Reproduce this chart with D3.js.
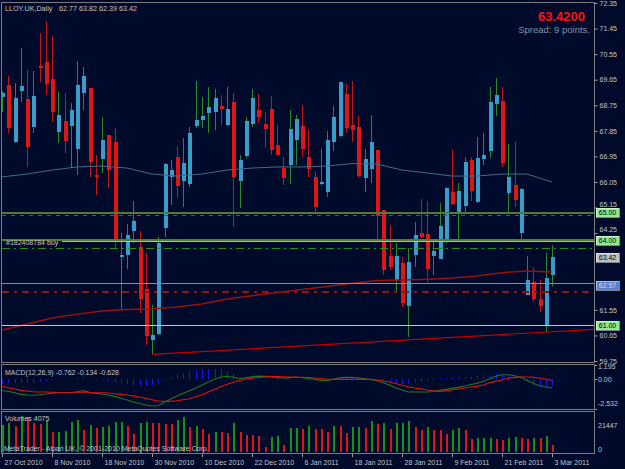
<!DOCTYPE html>
<html><head><meta charset="utf-8">
<script src="https://cdn.jsdelivr.net/npm/d3@7/dist/d3.min.js"></script>
<style>html,body{margin:0;padding:0;background:#000b2c;}svg{display:block}</style>
</head><body><svg id="c" width="625" height="469"></svg>
<script>
// ---------- DATA ----------
const symbolTitle = "LLOY.UK,Daily";
const lastOHLC = "62.77 63.82 62.39 63.42";
const bidText = "63.4200";
const spreadText = "Spread: 9 points.";
const opens  = [69.04,69.46,67.46,69.25,68.97,67.99,70.13,70.27,69.67,67.81,68.20,68.02,67.21,69.18,69.36,66.30,66.86,67.70,67.46,63.41,63.48,64.33,63.76,62.28,60.49,60.70,64.43,66.23,66.93,66.08,65.98,68.02,68.23,68.48,68.51,68.72,68.06,68.87,66.08,66.97,68.09,68.58,68.09,68.62,67.35,66.54,66.65,67.53,68.02,66.93,66.23,65.98,65.70,67.46,67.67,69.15,68.06,67.99,66.19,66.51,67.18,65.06,63.44,62.60,63.20,61.68,63.48,64.26,64.22,63.44,63.34,64.01,65.70,64.99,65.21,66.82,65.35,66.86,67.14,68.80,68.90,65.66,65.94,64.26,62.07,62.53,61.93,61.02,62.77];
const highs  = [69.25,69.78,69.53,70.77,69.99,69.96,71.29,71.72,71.19,69.22,69.18,68.83,70.31,70.10,69.36,67.00,68.34,67.70,67.95,64.26,64.57,65.38,64.33,63.55,61.72,64.11,66.72,66.82,67.32,67.60,67.99,69.60,69.04,69.39,69.32,69.11,69.39,69.18,67.00,68.34,69.32,69.15,68.51,69.08,68.06,66.93,68.58,68.41,68.76,67.88,66.40,67.21,67.84,68.72,69.57,69.50,69.60,68.37,67.21,68.41,67.18,65.06,64.54,63.90,63.41,63.73,64.64,65.45,65.38,63.94,65.31,65.87,67.21,66.01,66.93,66.93,67.63,67.77,69.39,69.71,69.39,67.39,67.49,65.84,63.44,63.06,62.60,63.55,63.82];
const lows   = [68.51,67.77,67.42,68.87,66.58,67.77,69.57,69.11,68.16,67.42,67.07,66.54,66.30,68.58,66.23,65.59,66.37,65.84,63.73,61.54,62.99,63.90,61.44,60.31,59.96,60.65,64.11,65.24,65.49,65.17,65.87,67.95,67.95,67.77,67.88,68.06,68.02,64.47,65.13,66.89,67.99,68.13,67.25,67.00,67.00,65.94,65.98,66.65,66.93,66.23,64.92,65.94,65.52,67.14,67.63,67.77,67.46,66.19,65.70,66.01,63.94,62.78,62.95,62.21,61.65,60.59,63.06,64.08,62.53,62.78,63.34,63.90,65.24,63.94,64.99,65.38,65.31,66.65,66.89,68.37,66.58,64.96,65.17,63.94,62.07,61.83,61.47,60.77,62.39];
const closes = [69.18,67.95,69.01,69.43,67.28,69.08,70.06,69.50,68.51,68.41,67.49,68.58,69.46,69.78,66.75,66.23,67.53,66.47,63.94,63.48,64.19,64.68,61.93,60.63,60.66,63.90,66.68,66.47,65.91,66.72,67.77,68.23,68.37,68.69,69.01,68.62,68.62,66.23,66.82,68.20,69.01,68.34,67.92,67.18,67.00,66.19,67.92,68.27,67.21,66.51,65.17,66.05,67.53,68.34,69.57,67.95,67.88,66.26,66.86,67.46,64.85,62.95,63.06,63.44,61.79,63.23,64.19,64.11,62.99,63.62,64.50,65.84,65.28,65.73,66.75,65.73,66.89,67.00,68.87,69.11,66.72,66.23,65.42,65.80,62.60,61.93,61.68,62.67,63.42];
const volumes = [16216,17088,15345,21447,20576,17088,16914,18483,11857,12206,12380,17611,18832,13252,15868,14473,14996,15345,17611,17960,15693,10462,17088,17960,17437,17088,16914,16740,19181,20576,14996,15345,13601,10462,12206,12032,11508,17088,12206,10113,9939,9765,3139,8893,9242,4011,14124,14473,13950,15345,13950,13775,12206,15693,15519,11334,14821,14996,14473,18483,16740,17088,13601,17088,17437,18483,14821,12903,14821,13252,12903,10462,12903,14298,13252,8021,8195,8370,8544,7498,7324,8370,8719,8544,7672,8370,8195,9765,4075];
const macdMain = [-0.989,-1.031,-1.158,-1.299,-1.356,-1.370,-1.328,-1.271,-1.201,-1.158,-1.158,-1.158,-1.073,-0.989,-1.130,-1.215,-1.271,-1.356,-1.469,-1.624,-1.780,-1.949,-2.076,-2.203,-2.288,-2.260,-1.949,-1.695,-1.441,-1.215,-0.989,-0.763,-0.508,-0.254,-0.028,0.169,0.212,0.169,0.028,0.113,0.184,0.240,0.226,0.198,0.113,0.085,0.113,0.169,0.113,0.042,-0.028,-0.113,-0.113,-0.028,0.099,0.141,0.155,0.099,0.028,-0.042,-0.141,-0.311,-0.508,-0.734,-0.932,-1.102,-1.102,-1.102,-1.102,-1.059,-0.960,-0.876,-0.791,-0.706,-0.593,-0.466,-0.367,-0.198,0.014,0.226,0.367,0.367,0.282,0.141,-0.113,-0.367,-0.565,-0.678,-0.762];
const macdSignal = [-0.593,-0.734,-0.847,-0.960,-1.017,-1.073,-1.102,-1.102,-1.116,-1.144,-1.158,-1.158,-1.158,-1.158,-1.158,-1.158,-1.158,-1.186,-1.243,-1.299,-1.356,-1.427,-1.525,-1.638,-1.751,-1.864,-1.893,-1.893,-1.836,-1.751,-1.667,-1.497,-1.328,-1.100,-0.880,-0.660,-0.450,-0.270,-0.120,-0.010,0.070,0.130,0.169,0.198,0.198,0.184,0.169,0.155,0.141,0.127,0.085,0.042,0.000,-0.028,-0.028,-0.028,-0.028,-0.028,-0.028,-0.028,-0.085,-0.169,-0.254,-0.381,-0.523,-0.650,-0.763,-0.833,-0.932,-0.989,-1.045,-1.003,-0.932,-0.847,-0.763,-0.678,-0.621,-0.508,-0.325,-0.198,-0.085,0.071,0.141,0.169,0.169,0.141,0.085,0.000,-0.134];
const maIndex = [0,4,8,12,16,20,24,28,32,36,40,44,48,52,56,60,64,68,72,76,80,84,88];
const maSlow = [60.84,61.05,61.26,61.40,61.51,61.56,61.58,61.65,61.76,61.93,62.05,62.16,62.27,62.37,62.49,62.58,62.60,62.63,62.67,62.74,62.86,62.92,62.88];
const maFast = [66.23,66.33,66.47,66.58,66.61,66.54,66.33,66.26,66.33,66.47,66.54,66.58,66.58,66.61,66.70,66.68,66.47,66.37,66.26,66.26,66.33,66.33,66.05];
const trendIndex = [24,88];
const trendPrice = [59.98,60.78];
const priceTicks = [72.35,71.45,70.55,69.65,68.75,67.85,66.95,66.05,65.15,64.25,61.55,60.65,59.75];
const dateIndex = [0,8,16,24,32,40,48,56,64,72,80,88];
const dateLabels = ["27 Oct 2010","8 Nov 2010","18 Nov 2010","30 Nov 2010","10 Dec 2010","22 Dec 2010","6 Jan 2011","18 Jan 2011","28 Jan 2011","9 Feb 2011","21 Feb 2011","3 Mar 2011"];
const levelPrices = [65.00, 64.90, 64.00, 63.72, 62.50, 62.19, 61.00];
const tagPrices = [65.00, 64.00, 63.42, 62.50, 61.00];
const tagLabels = ["65.00","64.00","63.42","62.57","61.00"];
const orderLabel = "#182408784 buy";
const macdTitle = "MACD(12,26,9) -0.762 -0.134 -0.628";
const macdTicks = [1.195, 0.00, -2.532];
const macdTickLabels = ["1.195","0.00","-2.532"];
const volTitle = "Volumes 4075";
const volTicks = [21447, 0];
const copyright = "MetaTrader - Alpari UK, \u00a9 2001-2010 MetaQuotes Software Corp.";

// ---------- DRAW ----------
const W = 625, H = 469, BG = '#000b2c', FONT = 'Liberation Sans, Arial, sans-serif', TXT = '#c4c4c4';
const svg = d3.select('#c');
svg.append('rect').attr('width', W).attr('height', H).attr('fill', BG);

const x = d3.scaleLinear().domain([0, 88]).range([2, 552]);
const px = i => Math.round(x(i));
const y = d3.scaleLinear().domain([59.75, 72.35]).range([361, 3]);
const ym = d3.scaleLinear().domain([-2.532, 1.195]).range([408.9, 364.9]);
const yv = d3.scaleLinear().domain([0, 21447]).range([452, 416]);

const defs = svg.append('defs');
defs.append('clipPath').attr('id', 'cm').append('rect').attr('x', 2).attr('y', 3).attr('width', 592).attr('height', 359);
defs.append('clipPath').attr('id', 'cd').append('rect').attr('x', 2).attr('y', 365).attr('width', 592).attr('height', 44);
defs.append('clipPath').attr('id', 'cv').append('rect').attr('x', 2).attr('y', 412).attr('width', 592).attr('height', 41);

// candles
const gC = svg.append('g').attr('clip-path', 'url(#cm)').attr('shape-rendering', 'crispEdges');
closes.forEach((c, i) => {
  const o = opens[i], bull = c >= o, cx = px(i);
  gC.append('line').attr('x1', cx + 0.5).attr('x2', cx + 0.5)
    .attr('y1', y(highs[i])).attr('y2', y(lows[i]))
    .attr('stroke', bull ? '#2a8a2a' : '#c81414').attr('stroke-width', 1);
  const t = y(Math.max(o, c)), b = y(Math.min(o, c));
  gC.append('rect').attr('x', cx - 1.5).attr('width', 4)
    .attr('y', t).attr('height', Math.max(1.5, b - t))
    .attr('fill', bull ? '#3a9cc8' : '#e01616');
});

// moving averages
const gL = svg.append('g').attr('clip-path', 'url(#cm)');
const lineP = d3.line().x(d => x(d[0])).y(d => y(d[1]));
gL.append('path').attr('d', lineP(maIndex.map((k, j) => [k, maFast[j]])))
  .attr('fill', 'none').attr('stroke', '#47698a').attr('stroke-width', 1);
gL.append('path').attr('d', lineP(maIndex.map((k, j) => [k, maSlow[j]])))
  .attr('fill', 'none').attr('stroke', '#9a1010').attr('stroke-width', 1.5);

// trendline (extended to the right edge)
const slope = (trendPrice[1] - trendPrice[0]) / (trendIndex[1] - trendIndex[0]);
const iEnd = x.invert(594);
gL.append('path').attr('d', lineP([[trendIndex[0], trendPrice[0]], [iEnd, trendPrice[0] + slope * (iEnd - trendIndex[0])]]))
  .attr('fill', 'none').attr('stroke', '#c40000').attr('stroke-width', 1.2);

// horizontal levels
const gH = svg.append('g').attr('clip-path', 'url(#cm)').attr('shape-rendering', 'crispEdges');
function hline(p, color, w, dash, x0, dy) {
  const yy = Math.round(y(p)) + (dy || 0) + (w % 2 ? 0.5 : 0);
  gH.append('line').attr('x1', x0 || 2).attr('x2', 594).attr('y1', yy).attr('y2', yy)
    .attr('stroke', color).attr('stroke-width', w).attr('stroke-dasharray', dash || null);
}
hline(levelPrices[0], '#557a35', 2, null, 2, 1);
hline(levelPrices[1], '#d02020', 1, '4,5');
hline(levelPrices[2], '#557a35', 2, null);
hline(levelPrices[2], '#9ccf8a', 1, null, 62, 1);
hline(levelPrices[3], '#1f8f1f', 1, '8,4,2,4');
hline(levelPrices[4], '#6f8fcf', 1, null);
hline(levelPrices[5], '#8a1515', 2, '7,5,3,5');
hline(levelPrices[6], '#a8dca8', 1, null);

svg.append('text').attr('x', 6).attr('y', Math.round(y(levelPrices[2])) + 4.5)
  .attr('font-family', FONT).attr('font-size', 7).attr('fill', TXT).text(orderLabel);

// MACD panel
const gM = svg.append('g').attr('clip-path', 'url(#cd)');
macdMain.forEach((m, i) => {
  const hv = m - macdSignal[i];
  gM.append('line').attr('x1', px(i) + 0.5).attr('x2', px(i) + 0.5)
    .attr('y1', ym(0)).attr('y2', ym(hv)).attr('stroke', '#1818e8').attr('stroke-width', 1)
    .attr('shape-rendering', 'crispEdges');
});
const lineM = d3.line().x((d, i) => x(i)).y(d => ym(d));
gM.append('path').attr('d', lineM(macdMain)).attr('fill', 'none').attr('stroke', '#1d7a1d').attr('stroke-width', 1.1);
gM.append('path').attr('d', lineM(macdSignal)).attr('fill', 'none').attr('stroke', '#e01010').attr('stroke-width', 1.1);

// Volume panel
const gV = svg.append('g').attr('clip-path', 'url(#cv)').attr('shape-rendering', 'crispEdges');
volumes.forEach((v, i) => {
  const up = i === 0 || v > volumes[i - 1];
  gV.append('rect').attr('x', px(i)).attr('width', 2)
    .attr('y', yv(v)).attr('height', yv(0) - yv(v))
    .attr('fill', up ? '#189018' : '#e01414');
});

// frames
const gF = svg.append('g').attr('fill', 'none').attr('stroke', '#7c7c7c').attr('shape-rendering', 'crispEdges');
gF.append('rect').attr('x', 1.5).attr('y', 2.5).attr('width', 593).attr('height', 360);
gF.append('rect').attr('x', 1.5).attr('y', 364.5).attr('width', 593).attr('height', 45);
gF.append('rect').attr('x', 1.5).attr('y', 411.5).attr('width', 593).attr('height', 42);

// right price axis
const axR = d3.axisRight(y).tickValues(priceTicks).tickFormat(d3.format('.2f')).tickSize(3).tickPadding(2);
const gA = svg.append('g').attr('transform', 'translate(594.5,0)').call(axR);
gA.select('.domain').remove();
gA.selectAll('line').attr('stroke', '#a0a0a0');
gA.selectAll('text').attr('font-family', FONT).attr('font-size', 7).attr('fill', TXT);
// nudge a label that would sit under a price tag
gA.selectAll('.tick').filter(d => tagPrices.some(p => Math.abs(y(p) - y(d)) < 8))
  .select('text').attr('dy', '-0.2em');

// price tags
tagPrices.forEach((p, j) => {
  const fills = ['#90e890', '#90e890', '#c0c0c0', '#5a7fcf', '#90e890'];
  const tcol = ['#000', '#000', '#000', '#d8d8d8', '#000'];
  const cy = Math.round(y(p)) + (j === 3 ? 2 : 0);
  svg.append('rect').attr('x', 596).attr('y', cy - 4).attr('width', 23).attr('height', 9)
    .attr('fill', fills[j]).attr('stroke', '#ffffff').attr('stroke-width', 0.5).attr('shape-rendering', 'crispEdges');
  svg.append('text').attr('x', 607.5).attr('y', cy + 3).attr('text-anchor', 'middle')
    .attr('font-family', FONT).attr('font-size', 7).attr('fill', tcol[j]).text(tagLabels[j]);
});

// MACD axis labels
const macdOff = [4.5, 2.5, -2.5];
macdTicks.forEach((v, j) => {
  svg.append('text').attr('x', 598).attr('y', ym(v) + macdOff[j])
    .attr('font-family', FONT).attr('font-size', 7).attr('fill', TXT).text(macdTickLabels[j]);
  svg.append('line').attr('x1', 594.5).attr('x2', 597).attr('y1', Math.round(ym(v)) + 0.5).attr('y2', Math.round(ym(v)) + 0.5)
    .attr('stroke', '#a0a0a0').attr('shape-rendering', 'crispEdges');
});
// Volume axis labels
const volOff = [11.5, -0.5];
volTicks.forEach((v, j) => {
  svg.append('text').attr('x', 598).attr('y', yv(v) + volOff[j])
    .attr('font-family', FONT).attr('font-size', 7).attr('fill', TXT).text(d3.format('d')(v));
});

// date axis
dateIndex.forEach((k, j) => {
  const xx = px(k) + 0.5;
  svg.append('line').attr('x1', xx).attr('x2', xx).attr('y1', 453.5).attr('y2', 457)
    .attr('stroke', '#a0a0a0').attr('shape-rendering', 'crispEdges');
  svg.append('text').attr('x', xx + 2).attr('y', 465)
    .attr('font-family', FONT).attr('font-size', 7).attr('fill', TXT).text(dateLabels[j]);
});

// titles
svg.append('text').attr('x', 5).attr('y', 11).attr('font-family', FONT).attr('font-size', 7.2).attr('fill', TXT).text(symbolTitle);
svg.append('text').attr('x', 59).attr('y', 11).attr('font-family', FONT).attr('font-size', 7.2).attr('fill', TXT).text(lastOHLC);
svg.append('text').attr('x', 585).attr('y', 21).attr('text-anchor', 'end').attr('font-family', FONT)
  .attr('font-size', 13).attr('font-weight', 'bold').attr('fill', '#ff1010').text(bidText);
svg.append('text').attr('x', 590).attr('y', 32.5).attr('text-anchor', 'end').attr('font-family', FONT)
  .attr('font-size', 9.5).attr('fill', '#7f92a8').text(spreadText);
svg.append('text').attr('x', 5).attr('y', 375).attr('font-family', FONT).attr('font-size', 7).attr('fill', TXT).text(macdTitle);
svg.append('text').attr('x', 5).attr('y', 421).attr('font-family', FONT).attr('font-size', 7).attr('fill', TXT).text(volTitle);
svg.append('text').attr('x', 4).attr('y', 451).attr('font-family', FONT).attr('font-size', 7).attr('fill', TXT).text(copyright);
</script></body></html>
